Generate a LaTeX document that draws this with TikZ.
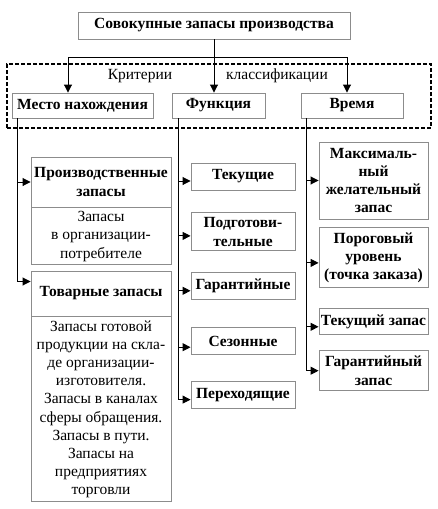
\documentclass[tikz,border=0pt]{standalone}
\usepackage{fontspec}
\setmainfont{Liberation Serif}
\usetikzlibrary{positioning,arrows.meta}
\begin{document}
\begin{tikzpicture}[x=1pt,y=-1pt,
	box/.style={draw=black!45, line width=0.9pt, fill=white, inner sep=1pt, align=center, font=\fontsize{15.5}{18.2}\selectfont\bfseries},
	txt/.style={box, font=\fontsize{15.5}{18.2}\selectfont},
	frame/.style={draw, line width=1.2pt, dash pattern=on 4pt off 2pt, inner sep=0pt},
	conn/.style={line width=0.9pt, -{Triangle[length=8pt,width=8pt]}}]
		\useasboundingbox (0,0) rectangle (437,509);
		\node (crit) [frame, minimum width=424, minimum height=64] at (219,96) {};
		\node (a1) [box, minimum width=272, minimum height=27] at (214,25.5) {Совокупные запасы производства};
		\node (k1) [font=\fontsize{15.5}{18.2}\selectfont] at (140,76) {Критерии};
		\node (k2) [font=\fontsize{15.5}{18.2}\selectfont] at (277,76) {классификации};
		\node (b1) [box, minimum width=141, minimum height=25] at (82.5,105.5) {Место нахождения};
		\node (b2) [box, minimum width=93, minimum height=25] at (218.5,105.5) {Функция};
		\node (b3) [box, minimum width=102, minimum height=25] at (352,105.5) {Время};
		
		\node (p1) [box, minimum width=140, minimum height=50] at (101,182) {Производственные\\запасы};
		\node (p2) [txt, minimum width=140, minimum height=57, below=0pt of p1] {Запасы\\в организации-\\потребителе};
		\node (t1) [box, minimum width=140, minimum height=45] at (101,293.5) {Товарные запасы};
		\node (t2) [txt, minimum width=140, minimum height=185, below=0pt of t1] {Запасы готовой\\продукции на скла-\\де организации-\\изготовителя.\\Запасы в каналах\\сферы обращения.\\Запасы в пути.\\Запасы на\\предприятиях\\торговли};
		
		\node (f1) [box, minimum width=104, minimum height=27] at (243,176.5) {Текущие};
		\node (f2) [box, minimum width=104, minimum height=38, below=22pt of f1] {Подготови-\\тельные};
		\node (f3) [box, minimum width=104, minimum height=27, below=21pt of f2] {Гарантийные};
		\node (f4) [box, minimum width=104, minimum height=27, below=27pt of f3] {Сезонные};
		\node (f5) [box, minimum width=104, minimum height=27, below=26pt of f4] {Переходящие};
		
		\node (v1) [box, minimum width=109, minimum height=77] at (373.5,180.5) {Максималь-\\ный\\желательный\\запас};
		\node (v2) [box, minimum width=109, minimum height=60, below=8pt of v1] {Пороговый\\уровень\\(точка заказа)};
		\node (v3) [box, minimum width=109, minimum height=26, below=20pt of v2] {Текущий запас};
		\node (v4) [box, minimum width=109, minimum height=40, below=15pt of v3] {Гарантийный\\запас};
		
		\coordinate (s) at (214,57);
		\draw[line width=0.9pt] (a1) -- (s);
		\draw[conn] (s) -| ([xshift=-14.5]b1.north);
		\draw[conn] (s) -- (s |- b2.north);
		\draw[conn] (s) -| ([xshift=-5]b3.north);
		
		\draw[conn] ([xshift=6]b1.south west) |- (p1.west);
		\draw[conn] ([xshift=6]b1.south west) |- ([yshift=12]t1.west);
		
		\draw[conn] ([xshift=7]b2.south west) |- ([yshift=-4.5]f1.west);
		\draw[conn] ([xshift=7]b2.south west) |- ([yshift=-4]f2.west);
		\draw[conn] ([xshift=7]b2.south west) |- ([yshift=-4.5]f3.west);
		\draw[conn] ([xshift=7]b2.south west) |- ([yshift=-6]f4.west);
		\draw[conn] ([xshift=7]b2.south west) |- ([yshift=-4.5]f5.west);
		
		\draw[conn] ([xshift=6]b3.south west) |- (v1.west);
		\draw[conn] ([xshift=6]b3.south west) |- ([yshift=-5]v2.west);
		\draw[conn] ([xshift=6]b3.south west) |- ([yshift=-5]v3.west);
		\draw[conn] ([xshift=6]b3.south west) |- (v4.west);
\end{tikzpicture}
\end{document}
